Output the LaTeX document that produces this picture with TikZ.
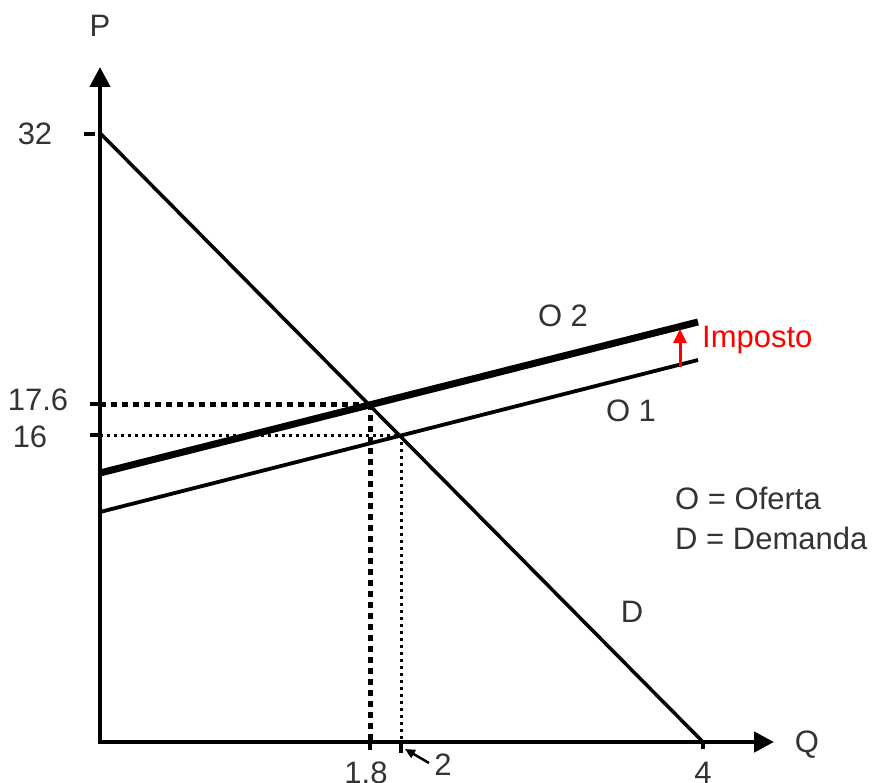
\documentclass[tikz,border=0pt]{standalone}
\usepackage{fontspec}
\setmainfont{Liberation Sans}
\usetikzlibrary{arrows.meta}
\begin{document}
\begin{tikzpicture}[x=1pt,y=-1pt,
  axis/.style={line width=4.5pt,-{Triangle[length=20pt,width=20pt]}},
  tick/.style={line width=4pt},
  curve/.style={line width=3.5pt},
  thincurve/.style={line width=3.8pt},
  thickcurve/.style={line width=7pt},
  dashline/.style={line width=5pt,dash pattern=on 6pt off 5pt},
  dotline/.style={line width=3pt,dash pattern=on 3pt off 4pt},
  lbl/.style={font=\fontsize{31}{33}\selectfont,text=black!80,inner sep=0pt},
  redlbl/.style={font=\fontsize{31}{33}\selectfont,text=red,inner sep=0pt}]
\useasboundingbox (0,0) rectangle (874,783);
% coordinates
\coordinate (O) at (100,742);
\coordinate (Ytop) at (100,67);
\coordinate (Xend) at (774,742);
\coordinate (D1) at (100,133);
\coordinate (D2) at (703,742);
\coordinate (A1) at (100,512);
\coordinate (A2) at (698,360);
\coordinate (B1) at (100,473);
\coordinate (B2) at (698,322);
\coordinate (E2) at (370,404);
\coordinate (E1) at (401,435);
\coordinate (Y176) at (100,404);
\coordinate (Y16) at (100,435);
\coordinate (X18) at (370,742);
\coordinate (X2) at (401,742);
\coordinate (Tb) at (680,367);
\coordinate (Tt) at (680,329);
% dashed / dotted guides
\draw[dashline] (Y176) -- (E2);
\draw[dashline] (E2) -- (X18);
\draw[dotline] (Y16) -- (E1);
\draw[dotline] (E1) -- (X2);
% curves
\draw[curve] (D1) -- (D2);
\draw[thincurve] (A1) -- (A2);
\draw[thickcurve] (B1) -- (B2);
% axes
\draw[axis] (100,744) -- (Ytop);
\draw[axis] (98,742) -- (Xend);
% ticks
\draw[tick] (84,134) -- (95,134);
\draw[tick] (90,404) -- (100,404);
\draw[tick] (90,435) -- (100,435);
\draw[tick] (370,742) -- (370,750);
\draw[tick] (401,742) -- (401,753);
\draw[tick] (703,742) -- (703,749);
% tax arrow
\draw[red,line width=3pt,-{Triangle[length=14pt,width=13pt]}] (Tb) -- (Tt);
% labels
\node[lbl] (P) at (100,26) {P};
\node[lbl] (Q) at (807,745) {Q};
\node[lbl] (l32) at (35,134) {32};
\node[lbl] (l176) at (38,400) {17.6};
\node[lbl] (l16) at (30,437) {16};
\node[lbl] (l18) at (366,773) {1.8};
\node[lbl] (l2) at (443,765) {2};
\node[lbl] (l4) at (703,773) {4};
\node[lbl] (o2) at (563,316) {O 2};
\node[lbl] (o1) at (631,411) {O 1};
\node[lbl] (d) at (632,612) {D};
\node[lbl,anchor=west] (leg1) at (675,498) {O = Oferta};
\node[lbl,anchor=west] (leg2) at (675,538) {D = Demanda};
\node[redlbl,anchor=west] (imp) at (702,340) {Imposto};
\draw[line width=2.5pt,-{Triangle[length=10pt,width=9pt]}] (429,763) -- (405,749);
\end{tikzpicture}
\end{document}
